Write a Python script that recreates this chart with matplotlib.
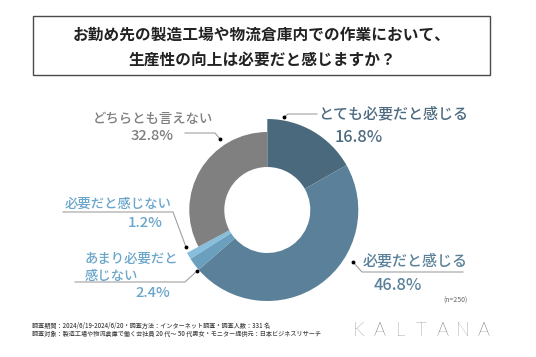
import matplotlib
matplotlib.use("Agg")
import matplotlib.pyplot as plt
from matplotlib.patches import Rectangle

plt.rcParams['font.family'] = ['Noto Sans CJK JP', 'DejaVu Sans']

# data (n=250)
categories = ['とても必要だと感じる', '必要だと感じる', 'あまり必要だと\n感じない',
              '必要だと感じない', 'どちらとも言えない']
shares = [16.8, 46.8, 2.4, 1.2, 32.8]
slice_colors = ['#4a697d', '#5a8199', '#6a9fbe', '#86bedb', '#808080']
label_colors = ['#4d6b80', '#5a8199', '#6aa5cb', '#6aa5cb', '#7f7f7f']

W, H = 536, 357


def Y(y):
    # picture rows -> axis y (origin at bottom)
    return H - y


fig = plt.figure(figsize=(W / 100, H / 100), dpi=100)
ax = fig.add_axes([0, 0, 1, 1])

cx, cy = 267.3, Y(210)
wedges, _ = ax.pie(shares, colors=slice_colors, startangle=90, counterclock=False,
                   center=(cx, cy), radius=91, wedgeprops=dict(width=48, linewidth=0))
# the "neither" slice is drawn thinner
wedges[4].set_radius(78)
wedges[4].set_width(35)

ax.set_xlim(0, W)
ax.set_ylim(0, H)
ax.set_aspect('equal')
ax.axis('off')

# title box
ax.add_patch(Rectangle((33, Y(75)), 457, 59, fill=False, edgecolor='#4a4a4a', lw=1))
ax.text(262, Y(35), 'お勤め先の製造工場や物流倉庫内での作業において、', ha='center', va='center',
        fontsize=11.3, fontweight='bold', color='#222222')
ax.text(262, Y(60), '生産性の向上は必要だと感じますか？', ha='center', va='center',
        fontsize=11.3, fontweight='bold', color='#222222')

# labels: (text left x, text y, pct centre x, pct y, size)
label_pos = [
    (318, 114, 359, 137, 10.8),
    (363, 261, 398, 286, 10.8),
    (85, 267.5, 153, 293, 9.6),
    (65, 204, 145, 223, 9.6),
    (93, 119, 152, 136, 9.6),
]
leaders = [
    [(284, 117), (288, 114), (317, 114)],
    [(353, 262), (362, 272), (463, 272)],
    [(197, 271), (185, 282), (75, 282)],
    [(186, 247), (173, 212), (63, 212)],
    [(220, 139), (215, 133), (185, 133)],
]

for name, val, col, (tx, ty, px, py, fs), pts in zip(categories, shares, label_colors,
                                                     label_pos, leaders):
    ax.text(tx, Y(ty), name, ha='left', va='center', fontsize=fs, color=col,
            fontweight='medium', linespacing=1.25)
    ax.text(px, Y(py), f'{val}%', ha='center', va='center', fontsize=fs + 1,
            color=col, fontweight='medium')
    xs = [p[0] for p in pts]
    ys = [Y(p[1]) for p in pts]
    ax.plot(xs, ys, color='#a0a0a0', lw=0.8)
    ax.plot(xs[0], ys[0], 'o', color='black', ms=1.8)

ax.text(468, Y(301), '(n=250)', ha='right', va='center', fontsize=5, color='#666666')

ax.text(32, Y(326), '調査期間：2024/6/19-2024/6/20・調査方法：インターネット調査・調査人数：331 名',
        ha='left', va='center', fontsize=4.4, color='#444444', fontweight='medium')
ax.text(32, Y(334), '調査対象：製造工場や物流倉庫で働く会社員 20 代〜 50 代男女・モニター提供元：日本ビジネスリサーチ',
        ha='left', va='center', fontsize=4.4, color='#444444', fontweight='medium')

# logo, letters spread out
for i, ch in enumerate('KALTANA'):
    ax.text(359 + i * 20.8, Y(331), ch, ha='center', va='center', fontsize=13.5,
            color='#444444', family=['Lato', 'DejaVu Sans'], fontweight='light')

fig.savefig('out.png', dpi=100)
